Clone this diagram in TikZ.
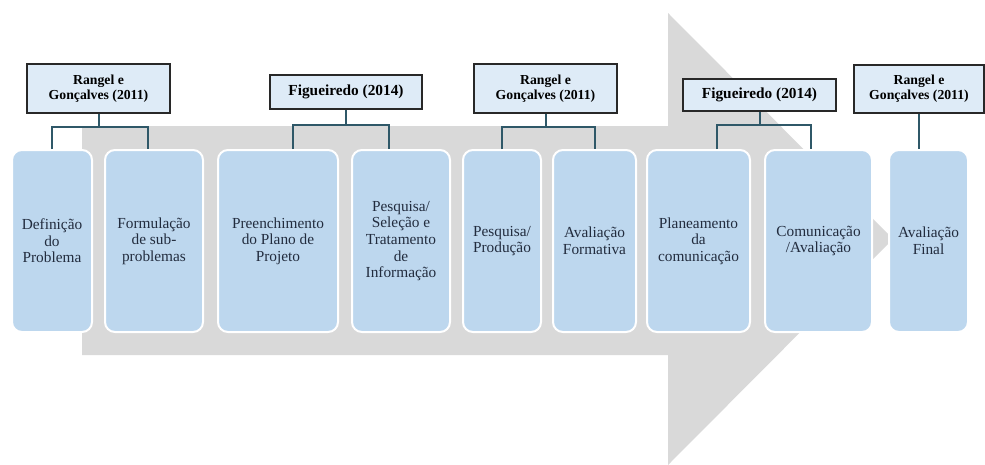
\documentclass[tikz,border=0pt]{standalone}
\usepackage{fontspec}
\setmainfont{Liberation Serif}
\definecolor{arrowgray}{RGB}{217,217,217}
\definecolor{boxblue}{RGB}{189,215,238}
\definecolor{headblue}{RGB}{222,235,247}
\definecolor{conncol}{RGB}{47,88,104}
\definecolor{txtcol}{RGB}{34,44,62}
\definecolor{headborder}{RGB}{40,40,40}
\tikzset{
  stepbox/.style={draw=white, line width=1.5pt, fill=boxblue, rounded corners=7.5pt,
    minimum height=136.5pt, align=center, text=txtcol,
    font=\fontsize{11.5}{12.5}\selectfont, inner sep=1pt},
  headbox/.style={draw=headborder, line width=1.4pt, fill=headblue, align=center,
    text=black, inner sep=1pt},
  smallhead/.style={headbox, font=\fontsize{10.3}{11.25}\selectfont\bfseries},
  bighead/.style={headbox, font=\fontsize{11.5}{12.5}\selectfont\bfseries},
  conn/.style={draw=conncol, line width=1.5pt}
}
\begin{document}
\begin{tikzpicture}[x=0.75pt, y=-0.75pt]
\useasboundingbox (0,0) rectangle (985,464);
% big arrow
\fill[arrowgray] (82,126) -- (668,126) -- (668,13) -- (893,239) -- (668,465) -- (668,355) -- (82,355) -- cycle;
% step boxes
\node[stepbox, minimum width=60pt] (b1) at (52,241) {Definição\\do\\Problema};
\node[stepbox, minimum width=73.5pt] (b2) at (154,241) {Formulação\\de sub-\\problemas};
\node[stepbox, minimum width=90pt] (b3) at (278,241) {Preenchimento\\do Plano de\\Projeto};
\node[stepbox, minimum width=73.5pt] (b4) at (401,241) {Pesquisa/\\Seleção e\\Tratamento\\de\\Informação};
\node[stepbox, minimum width=58.5pt] (b5) at (502,241) {Pesquisa/\\Produção};
\node[stepbox, minimum width=62.25pt] (b6) at (594.5,241) {Avaliação\\Formativa};
\node[stepbox, minimum width=77.25pt] (b7) at (698.5,241) {Planeamento\\da\\comunicação};
\node[stepbox, minimum width=80.25pt] (b8) at (818.5,241) {Comunicação\\/Avaliação};
\node[stepbox, minimum width=59.25pt] (b9) at (928.5,241) {Avaliação\\Final};
% header boxes
\node[smallhead, minimum width=107pt, minimum height=36.75pt] (h1) at (98.5,88.5) {Rangel e\\Gonçalves (2011)};
\node[bighead, minimum width=114pt, minimum height=25.5pt] (h2) at (346,92) {Figueiredo (2014)};
\node[smallhead, minimum width=107pt, minimum height=36.75pt] (h3) at (545.5,88.5) {Rangel e\\Gonçalves (2011)};
\node[bighead, minimum width=114.75pt, minimum height=24pt] (h4) at (759.5,95) {Figueiredo (2014)};
\node[smallhead, minimum width=97.5pt, minimum height=36pt] (h5) at (919,89) {Rangel e\\Gonçalves (2011)};
% connectors
\draw[conn] (h1.south) -- (h1.south |- 0,127) coordinate (j1);
\draw[conn] (b1.north) |- (j1) -| ([xshift=-4.5pt]b2.north);
\draw[conn] (h2.south) -- (h2.south |- 0,125) coordinate (j2);
\draw[conn] ([xshift=11.25pt]b3.north) |- (j2) -| ([xshift=-9pt]b4.north);
\draw[conn] (h3.south) -- (h3.south |- 0,127) coordinate (j3);
\draw[conn] (b5.north) |- (j3) -| (b6.north);
\draw[conn] (h4.south) -- (h4.south |- 0,125) coordinate (j4);
\draw[conn] ([xshift=13.9pt]b7.north) |- (j4) -| ([xshift=-5.6pt]b8.north);
\draw[conn] (h5.south) -- (h5.south |- b9.north);
\end{tikzpicture}
\end{document}
